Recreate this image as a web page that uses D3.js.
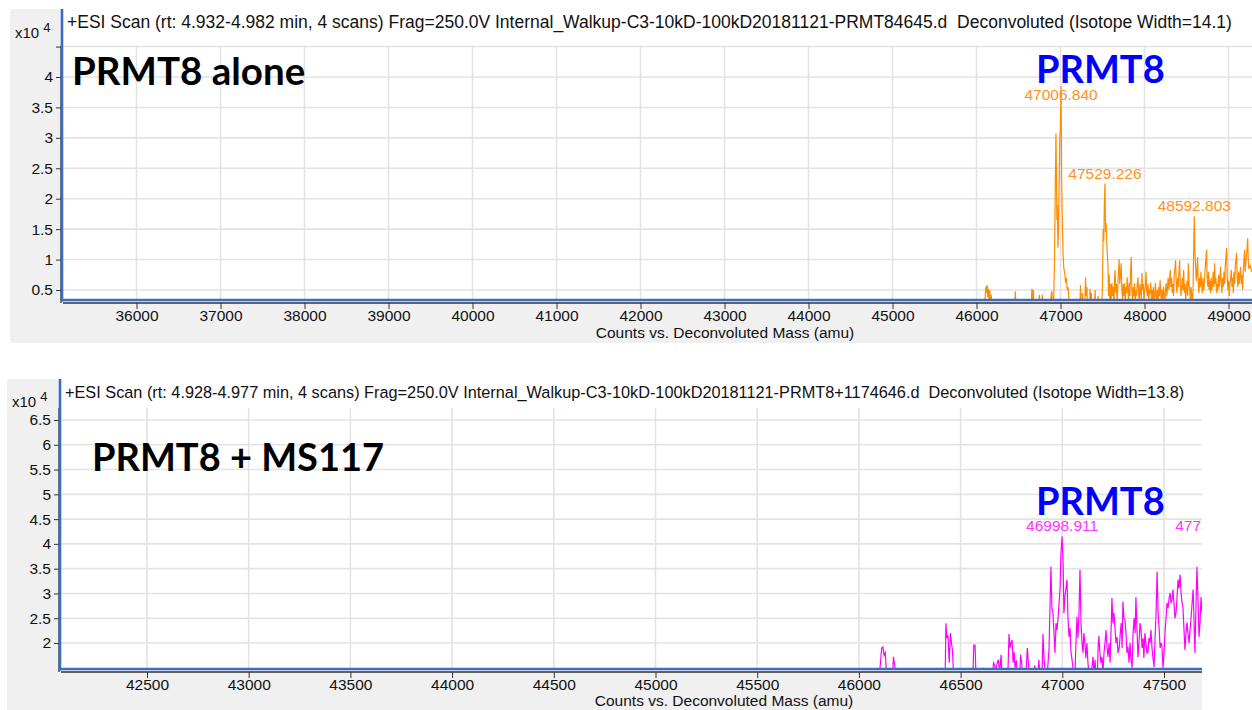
<!DOCTYPE html>
<html>
<head>
<meta charset="utf-8">
<script src="https://cdn.jsdelivr.net/npm/d3@7"></script>
<style>
  html, body { margin: 0; padding: 0; background: #ffffff; }
  svg { display: block; }
  .tick text { font-family: "Liberation Sans", Arial, sans-serif; }
</style>
</head>
<body>
<svg id="chart" width="1252" height="710"></svg>
<script>
// ---- Deconvoluted spectrum, PRMT8 alone: [mass (amu), counts x10^4]
const spectrumAlone = [
  [46080,0.2],[46100,0.3],[46107,0.48],[46114,0.56],[46120,0.45],[46127,0.58],[46134,0.38],[46141,0.52],
  [46150,0.35],[46158,0.5],[46165,0.3],[46175,0.42],[46185,0.2],[46455,0.2],[46462,0.48],[46470,0.2],
  [46650,0.2],[46660,0.52],[46668,0.3],[46676,0.5],[46685,0.2],[46740,0.2],[46748,0.42],[46756,0.2],
  [46775,0.2],[46782,0.42],[46790,0.3],[46800,0.2],[46880,0.2],[46890,0.45],[46898,0.48],[46905,0.2],
  [46918,0.3],[46928,0.9],[46938,2.2],[46946,3.07],[46952,2.4],[46957,1.65],[46963,1.9],[46969,1.2],
  [46976,1.5],[46984,2.3],[46992,3.0],[47000,3.2],[47006.840,3.85],[47014,2.3],[47022,1.6],[47030,1.1],
  [47040,0.85],[47050,0.78],[47060,0.62],[47070,0.7],[47080,0.5],[47090,0.55],[47100,0.35],[47115,0.2],
  [47230,0.2],[47238,0.58],[47246,0.3],[47254,0.2],[47262,0.45],[47270,0.2],[47290,0.3],[47298,0.71],
  [47306,0.4],[47314,0.55],[47322,0.2],[47345,0.2],[47352,0.52],[47360,0.3],[47368,0.45],[47376,0.2],
  [47405,0.2],[47412,0.5],[47420,0.2],[47440,0.2],[47448,0.4],[47456,0.2],[47490,0.2],[47500,0.6],
  [47508,1.5],[47515,1.3],[47522,1.9],[47529.226,2.25],[47536,1.45],[47543,1.6],[47550,1.3],[47557,1.1],
  [47565,0.9],[47572,0.4],[47580,0.75],[47588,0.3],[47596,0.6],[47604,0.35],[47612,0.61],[47620,0.4],
  [47628,0.55],[47636,0.2],[47644,0.7],[47650,0.83],[47658,0.45],[47666,0.6],[47674,0.3],[47682,0.55],
  [47690,0.8],[47698,1.01],[47706,0.6],[47714,0.75],[47722,0.94],[47730,0.5],[47738,0.35],[47746,0.6],
  [47754,0.4],[47762,0.61],[47770,0.3],[47778,0.55],[47786,0.45],[47794,0.71],[47802,0.5],[47810,0.35],
  [47818,0.62],[47826,0.4],[47834,0.8],[47842,1.04],[47850,0.5],[47858,0.3],[47866,0.55],[47874,0.4],
  [47882,0.61],[47890,0.3],[47898,0.5],[47906,0.4],[47914,0.6],[47922,0.71],[47930,0.45],[47938,0.3],
  [47946,0.6],[47954,0.5],[47962,0.35],[47970,0.78],[47978,0.5],[47986,0.6],[47994,0.3],[48002,0.5],
  [48010,0.55],[48018,0.8],[48026,0.5],[48034,0.4],[48042,0.6],[48050,0.3],[48058,0.5],[48066,0.45],
  [48074,0.62],[48082,0.35],[48090,0.5],[48098,0.3],[48106,0.55],[48114,0.4],[48122,0.3],[48130,0.62],
  [48138,0.45],[48146,0.35],[48154,0.5],[48162,0.3],[48170,0.55],[48178,0.4],[48186,0.66],[48194,0.45],
  [48202,0.3],[48210,0.5],[48218,0.35],[48226,0.55],[48234,0.4],[48242,0.3],[48250,0.5],[48258,0.61],
  [48266,0.4],[48274,0.55],[48282,0.7],[48290,0.5],[48298,0.65],[48306,0.83],[48314,0.55],[48322,0.7],
  [48330,0.45],[48338,0.6],[48346,0.4],[48354,0.75],[48362,0.85],[48370,0.99],[48378,0.6],[48386,0.45],
  [48394,0.7],[48402,0.55],[48410,0.8],[48418,0.99],[48426,0.6],[48434,0.4],[48442,0.55],[48450,0.7],
  [48458,0.5],[48466,0.83],[48474,0.45],[48482,0.6],[48490,0.35],[48498,0.5],[48506,0.65],[48514,0.4],
  [48522,0.94],[48530,0.6],[48538,0.5],[48546,0.35],[48554,0.55],[48562,0.4],[48570,0.3],[48578,0.5],
  [48586,1.2],[48592.803,1.71],[48600,1.1],[48608,0.9],[48616,0.65],[48624,0.8],[48632,1.04],[48640,0.6],
  [48648,0.45],[48656,0.7],[48664,0.55],[48672,0.8],[48680,0.6],[48688,0.45],[48696,0.7],[48704,0.5],
  [48712,0.6],[48720,0.8],[48728,0.95],[48738,1.16],[48746,0.7],[48754,0.55],[48762,0.8],[48770,0.5],
  [48778,0.65],[48786,0.45],[48794,0.7],[48802,0.5],[48810,0.6],[48818,0.8],[48826,0.55],[48834,0.94],
  [48842,0.6],[48850,0.7],[48858,0.45],[48866,0.6],[48874,0.5],[48882,0.75],[48890,0.55],[48898,0.7],
  [48906,0.88],[48914,0.6],[48922,0.45],[48930,0.7],[48938,0.55],[48946,0.8],[48954,0.6],[48962,0.9],
  [48970,1.05],[48977,1.19],[48985,0.7],[48993,0.5],[49001,0.65],[49009,0.4],[49017,0.6],[49025,0.7],
  [49033,0.83],[49041,0.55],[49049,0.7],[49057,0.45],[49065,0.8],[49073,0.6],[49081,0.9],[49089,1.0],
  [49096,1.11],[49104,0.7],[49112,0.55],[49120,0.8],[49128,0.6],[49136,0.75],[49144,0.88],[49152,0.6],
  [49160,0.75],[49168,0.5],[49176,0.8],[49184,1.0],[49191,1.16],[49199,0.8],[49207,0.95],[49215,1.1],
  [49222,1.2],[49228,1.35],[49235,1.0],[49242,0.85],[49250,0.88],[49258,0.9],[49266,0.85],[49275,0.8]
];

// ---- Deconvoluted spectrum, PRMT8 + MS117: [mass (amu), counts x10^4]
const spectrumMS117 = [
  [46100,1.3],[46112,1.9],[46118,1.92],[46124,1.75],[46130,1.8],[46136,1.3],[46165,1.3],[46170,1.72],
  [46176,1.55],[46182,1.3],[46400,1.3],[46406,1.5],[46412,1.3],[46424,1.3],[46428,2.4],[46433,2.1],
  [46438,2.15],[46444,1.6],[46450,2.2],[46455,2.0],[46460,1.85],[46466,1.3],[46560,1.3],[46565,1.96],
  [46571,1.96],[46576,1.3],[46605,1.3],[46610,1.5],[46615,1.3],[46655,1.3],[46662,1.6],[46668,1.55],
  [46673,1.4],[46680,1.6],[46686,1.66],[46692,1.4],[46699,1.76],[46704,1.3],[46732,1.3],[46738,2.18],
  [46743,1.9],[46748,2.0],[46753,2.06],[46758,1.6],[46763,1.82],[46768,1.5],[46774,1.65],[46780,1.3],
  [46790,1.3],[46795,1.76],[46800,1.6],[46806,1.3],[46820,1.3],[46828,1.9],[46833,1.6],[46838,1.3],
  [46860,1.3],[46865,1.55],[46870,1.3],[46880,1.3],[46885,1.66],[46890,1.3],[46900,1.3],[46905,2.18],
  [46910,1.7],[46918,1.3],[46925,1.3],[46935,1.9],[46944,3.54],[46949,2.7],[46954,2.61],[46959,2.2],
  [46964,1.8],[46969,2.4],[46974,2.26],[46979,2.5],[46984,2.8],[46989,3.1],[46993,3.78],[46998.911,4.15],
  [47004,3.6],[47008,2.6],[47013,2.93],[47018,3.1],[47023,3.28],[47028,2.5],[47033,2.12],[47038,2.3],
  [47043,1.8],[47048,1.66],[47055,1.4],[47062,1.3],[47067,2.0],[47072,2.53],[47077,2.1],[47082,2.6],
  [47087,3.48],[47092,2.4],[47097,2.0],[47102,1.8],[47106,2.2],[47111,2.02],[47116,1.7],[47121,2.0],
  [47126,1.6],[47131,1.4],[47140,1.3],[47146,1.5],[47151,1.72],[47156,1.4],[47161,1.66],[47166,1.3],
  [47172,1.3],[47176,1.9],[47180,2.14],[47185,1.8],[47190,1.6],[47195,1.72],[47200,1.4],[47205,1.8],
  [47210,2.0],[47215,2.26],[47220,1.9],[47225,1.72],[47230,2.0],[47235,1.6],[47240,2.3],[47244,2.91],
  [47249,2.4],[47254,2.61],[47259,2.3],[47264,2.0],[47269,2.12],[47274,1.8],[47280,1.9],[47285,2.2],
  [47290,2.4],[47294,1.9],[47298,2.83],[47303,2.5],[47308,2.47],[47313,2.2],[47318,1.8],[47323,1.92],
  [47328,1.6],[47333,2.0],[47338,1.66],[47343,1.5],[47348,2.2],[47353,2.5],[47358,2.2],[47362,2.93],
  [47367,2.3],[47372,1.72],[47377,2.0],[47382,2.4],[47387,2.26],[47392,1.9],[47397,2.1],[47401,1.7],
  [47406,2.2],[47411,2.0],[47416,1.8],[47421,1.8],[47426,2.1],[47431,2.0],[47436,2.26],[47441,1.9],
  [47446,1.7],[47451,1.51],[47456,2.1],[47461,2.6],[47466,3.44],[47471,2.61],[47476,2.3],[47481,1.9],
  [47486,2.0],[47490,1.92],[47495,1.5],[47500,1.8],[47505,2.2],[47510,2.5],[47515,2.81],[47520,2.7],
  [47525,2.9],[47530,3.01],[47535,2.8],[47540,2.9],[47544,3.08],[47549,2.8],[47554,2.5],[47559,2.61],
  [47564,2.9],[47569,3.28],[47574,3.1],[47579,3.38],[47584,3.0],[47589,2.8],[47593,2.73],[47598,2.3],
  [47603,1.86],[47608,2.2],[47613,2.41],[47618,2.2],[47623,2.0],[47628,2.26],[47633,2.5],[47638,2.8],
  [47643,3.08],[47648,2.4],[47652,1.8],[47657,2.7],[47662,3.54],[47667,2.9],[47672,2.12],[47677,2.4],
  [47682,2.93],[47687,2.6],[47692,2.9]
];

// ---- Labelled peaks (mass label, apex counts x10^4)
const peaksAlone = [
  { mass: 47006.840, counts: 3.85 },
  { mass: 47529.226, counts: 2.25 },
  { mass: 48592.803, counts: 1.71 }
];
const peaksMS117 = [
  { mass: 46998.911, counts: 4.15 },
  { mass: 47735.204, counts: 4.15 }
];

// ---- Axis ticks
const xTicksAlone = [36000,37000,38000,39000,40000,41000,42000,43000,44000,45000,46000,47000,48000,49000];
const yTicksAlone = [0.5,1,1.5,2,2.5,3,3.5,4,4.5];
const yLabelsAlone = ["0.5","1","1.5","2","2.5","3","3.5","4",""];
const xTicksMS117 = [42500,43000,43500,44000,44500,45000,45500,46000,46500,47000,47500];
const yTicksMS117 = [2,2.5,3,3.5,4,4.5,5,5.5,6,6.5];
const yLabelsMS117 = ["2","2.5","3","3.5","4","4.5","5","5.5","6","6.5"];

// ---- Header texts
const headerAlone = "+ESI Scan (rt: 4.932-4.982 min, 4 scans) Frag=250.0V Internal_Walkup-C3-10kD-100kD20181121-PRMT84645.d  Deconvoluted (Isotope Width=14.1)";
const headerMS117 = "+ESI Scan (rt: 4.928-4.977 min, 4 scans) Frag=250.0V Internal_Walkup-C3-10kD-100kD20181121-PRMT8+1174646.d  Deconvoluted (Isotope Width=13.8)";

const svg = d3.select("#chart");
const SANS = "'Liberation Sans', Arial, sans-serif";
const BOLD = "Lato, 'Open Sans', sans-serif";

function drawPanel(cfg) {
  const g = svg.append("g");
  const p = cfg.plot;

  // panel background and white plot area
  g.append("rect").attr("x", cfg.panel.x).attr("y", cfg.panel.y)
    .attr("width", cfg.panel.w).attr("height", cfg.panel.h).attr("fill", "#f0f0f0");
  g.append("rect").attr("x", p.left).attr("y", p.top)
    .attr("width", p.right - p.left).attr("height", p.bottom - p.top).attr("fill", "#ffffff");

  const x = d3.scaleLinear().domain(cfg.xDomain).range(cfg.xRange);
  const y = d3.scaleLinear().domain(cfg.yDomain).range(cfg.yRange);

  // grid
  const grid = g.append("g");
  grid.selectAll("line.vg").data(cfg.xTicks).join("line")
    .attr("x1", d => x(d)).attr("x2", d => x(d))
    .attr("y1", p.gridTop).attr("y2", p.bottom)
    .attr("stroke", "#e3e3e3").attr("stroke-width", 1.6);
  grid.selectAll("line.hg").data(cfg.yTicks).join("line")
    .attr("x1", p.left).attr("x2", p.right)
    .attr("y1", d => y(d)).attr("y2", d => y(d))
    .attr("stroke", "#e3e3e3").attr("stroke-width", 1.6);

  // header line
  g.append("text").attr("x", p.left + 5).attr("y", p.top + 19)
    .attr("font-family", SANS).attr("font-size", cfg.headerSize).attr("fill", "#111")
    .attr("xml:space", "preserve").style("white-space", "pre")
    .text(cfg.header);

  // sample caption and protein label
  g.append("text").attr("x", cfg.caption.x).attr("y", cfg.caption.y)
    .attr("font-family", BOLD).attr("font-weight", 700).attr("font-size", cfg.caption.size)
    .attr("fill", "#000").text(cfg.caption.text);
  g.append("text").attr("x", cfg.protein.x).attr("y", cfg.protein.y)
    .attr("font-family", BOLD).attr("font-weight", 700).attr("font-size", cfg.protein.size)
    .attr("fill", "#0000ff").text("PRMT8");

  // clipped data layer
  const clipId = cfg.id + "-clip";
  svg.append("clipPath").attr("id", clipId).append("rect")
    .attr("x", p.left).attr("y", p.top).attr("width", p.right - p.left).attr("height", p.bottom - p.top);
  const data = g.append("g").attr("clip-path", `url(#${clipId})`);

  const line = d3.line().x(d => x(d[0])).y(d => y(d[1]));
  data.append("path").datum(cfg.spectrum)
    .attr("d", line).attr("fill", "none")
    .attr("stroke", cfg.color).attr("stroke-width", 1.2).attr("stroke-linejoin", "miter");

  data.selectAll("text.peak").data(cfg.peaks).join("text")
    .attr("x", d => x(d.mass))
    .attr("y", d => Math.max(y(d.counts) - 5, cfg.labelMinY))
    .attr("text-anchor", "middle")
    .attr("font-family", SANS).attr("font-size", 15.5).attr("fill", cfg.labelColor)
    .text(d => d.mass.toFixed(3));

  // x axis
  const xAxis = d3.axisBottom(x).tickValues(cfg.xTicks).tickSize(6).tickSizeOuter(0)
    .tickFormat(d3.format("d"));
  const gx = g.append("g").attr("transform", `translate(0,${p.bottom + 3})`).call(xAxis);
  gx.select(".domain").remove();
  gx.selectAll(".tick line").attr("stroke", "#333");
  gx.selectAll(".tick text").attr("font-size", 15.5).attr("fill", "#111").attr("y", 7).attr("dy", "0.71em");
  g.append("line").attr("x1", p.left + 1).attr("x2", p.right)
    .attr("y1", p.bottom + 3).attr("y2", p.bottom + 3).attr("stroke", "#333").attr("stroke-width", 1.3);

  // y axis
  const yAxis = d3.axisLeft(y).tickValues(cfg.yTicks).tickSize(5).tickSizeOuter(0)
    .tickFormat((d, i) => cfg.yLabels[i]);
  const gy = g.append("g").attr("transform", `translate(${p.left - 1},0)`).call(yAxis);
  gy.select(".domain").remove();
  gy.selectAll(".tick line").attr("stroke", "#333");
  gy.selectAll(".tick text").attr("font-size", 15.5).attr("fill", "#111").attr("x", -8);
  g.append("line").attr("x1", p.left - 1).attr("x2", p.left - 1)
    .attr("y1", p.gridTop).attr("y2", p.bottom + 3).attr("stroke", "#333").attr("stroke-width", 1.3);

  // blue frame edges
  g.append("line").attr("x1", p.left).attr("x2", p.left).attr("y1", p.top).attr("y2", p.bottom + 1.5)
    .attr("stroke", "#3a6cc8").attr("stroke-width", 2.6);
  g.append("line").attr("x1", p.left).attr("x2", p.right).attr("y1", p.bottom).attr("y2", p.bottom)
    .attr("stroke", "#3a6cc8").attr("stroke-width", 2.6);

  // exponent label
  const ex = g.append("text").attr("x", cfg.exp.x).attr("y", cfg.exp.y)
    .attr("font-family", SANS).attr("font-size", 15).attr("fill", "#111");
  ex.append("tspan").text("x10 ");
  ex.append("tspan").attr("dy", -6).attr("font-size", 13).text("4");

  // axis title
  g.append("text").attr("x", cfg.xTitle.x).attr("y", cfg.xTitle.y).attr("text-anchor", "middle")
    .attr("font-family", SANS).attr("font-size", 15.5).attr("fill", "#111")
    .text("Counts vs. Deconvoluted Mass (amu)");
}

drawPanel({
  id: "alone",
  panel: { x: 10, y: 9, w: 1242, h: 334 },
  plot: { left: 62, right: 1252, top: 9, bottom: 300, gridTop: 46 },
  xDomain: [36000, 49000], xRange: [136.5, 1228.5],
  yDomain: [0.5, 4], yRange: [290, 77],
  xTicks: xTicksAlone, yTicks: yTicksAlone, yLabels: yLabelsAlone,
  header: headerAlone, headerSize: 17.5,
  caption: { text: "PRMT8 alone", x: 72, y: 85, size: 38.5 },
  protein: { x: 1036, y: 83, size: 38 },
  spectrum: spectrumAlone, color: "#ff8c00",
  peaks: peaksAlone, labelColor: "#ff9124", labelMinY: 100,
  exp: { x: 15, y: 38 },
  xTitle: { x: 725, y: 338 }
});

drawPanel({
  id: "ms117",
  panel: { x: 7, y: 379, w: 1195, h: 331 },
  plot: { left: 60, right: 1202, top: 379, bottom: 669, gridTop: 408 },
  xDomain: [42500, 47500], xRange: [147, 1164],
  yDomain: [2, 6.5], yRange: [643, 420],
  xTicks: xTicksMS117, yTicks: yTicksMS117, yLabels: yLabelsMS117,
  header: headerMS117, headerSize: 16.3,
  caption: { text: "PRMT8 + MS117", x: 92, y: 471, size: 38 },
  protein: { x: 1036, y: 515, size: 38 },
  spectrum: spectrumMS117, color: "#ff00ff",
  peaks: peaksMS117, labelColor: "#ff33ff", labelMinY: 0,
  exp: { x: 12, y: 407 },
  xTitle: { x: 724, y: 706 }
});
</script>
</body>
</html>
